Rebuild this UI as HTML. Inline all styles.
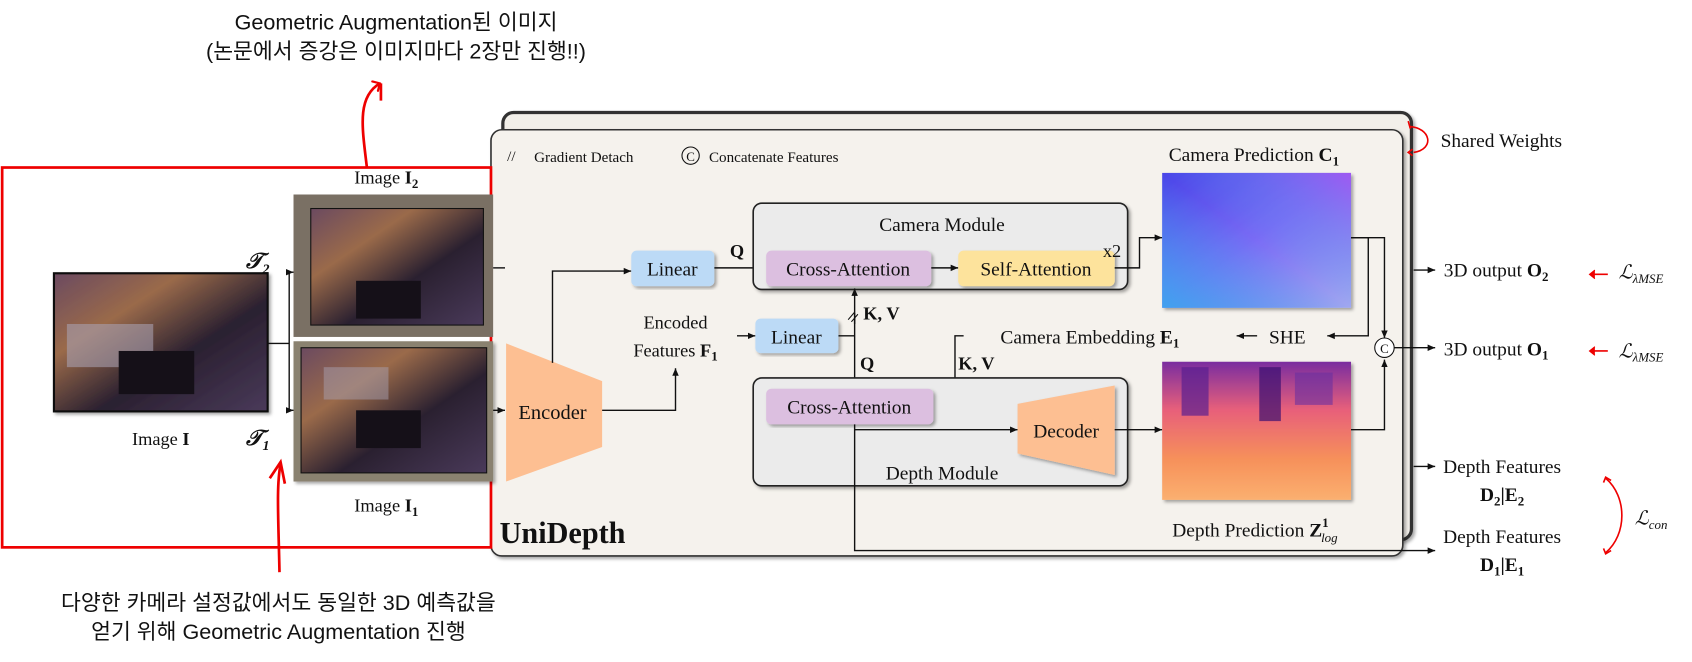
<!DOCTYPE html>
<html><head><meta charset="utf-8"><style>
html,body{margin:0;padding:0;background:#fff;width:1692px;height:662px;overflow:hidden}
svg{display:block}
.t{font-family:"Liberation Serif",serif;fill:#111}
.k{font-family:"Liberation Sans","Noto Sans CJK KR",sans-serif;fill:#111}
</style></head><body>
<svg width="1692" height="662" viewBox="0 0 1568 613" xmlns="http://www.w3.org/2000/svg">
<defs>
<marker id="a" markerWidth="8" markerHeight="8" refX="7" refY="4" orient="auto" markerUnits="userSpaceOnUse"><path d="M0,1 L7,4 L0,7 z" fill="#111"/></marker>
<marker id="r" markerWidth="12" markerHeight="12" refX="6" refY="6" orient="auto" markerUnits="userSpaceOnUse"><path d="M0,0 L6,6 L0,12" fill="none" stroke="#e00" stroke-width="2"/></marker>
<linearGradient id="cam" x1="0" y1="0" x2="1" y2="1"><stop offset="0" stop-color="#4a45e8"/><stop offset="0.5" stop-color="#7a6cf5"/><stop offset="1" stop-color="#a0a8f0"/></linearGradient>
<linearGradient id="cam2" x1="0" y1="1" x2="1" y2="0"><stop offset="0" stop-color="#3aa8ee" stop-opacity="0.9"/><stop offset="0.5" stop-color="#3aa8ee" stop-opacity="0"/><stop offset="1" stop-color="#b050f0" stop-opacity="0.7"/></linearGradient>
<linearGradient id="dep" x1="0" y1="0" x2="0" y2="1"><stop offset="0" stop-color="#7a2da0"/><stop offset="0.35" stop-color="#e8607a"/><stop offset="0.7" stop-color="#f6905a"/><stop offset="1" stop-color="#fbb070"/></linearGradient>
<linearGradient id="ph" x1="0" y1="0" x2="1" y2="1"><stop offset="0" stop-color="#6b4a60"/><stop offset="0.3" stop-color="#9a6a4a"/><stop offset="0.6" stop-color="#2a2030"/><stop offset="1" stop-color="#4a3a5a"/></linearGradient>
<filter id="sh"><feDropShadow dx="2" dy="2" stdDeviation="1.5" flood-opacity="0.35"/></filter>
</defs>

<text class="k" x="367" y="27" font-size="20" text-anchor="middle">Geometric Augmentation된 이미지</text>
<text class="k" x="367" y="54" font-size="20" text-anchor="middle">(논문에서 증강은 이미지마다 2장만 진행!!)</text>
<path d="M340,155 C336,120 330,90 352,77" fill="none" stroke="#e00" stroke-width="2.5" marker-end="url(#r)"/>
<path d="M353,77 L353,93" stroke="#e00" stroke-width="2.5"/>

<rect x="466" y="104" width="842" height="396" rx="10" fill="#f2efe9" stroke="#333" stroke-width="3" filter="url(#sh)"/>
<rect x="455" y="120" width="845" height="395" rx="10" fill="#f5f2ed" stroke="#333" stroke-width="1.5" filter="url(#sh)"/>

<text class="t" x="470" y="149" font-size="14" fill="#555">//</text>
<text class="t" x="495" y="150" font-size="14">Gradient Detach</text>
<circle cx="640" cy="144" r="8" fill="none" stroke="#111"/>
<text class="t" x="640" y="149" font-size="12" text-anchor="middle">C</text>
<text class="t" x="657" y="150" font-size="14">Concatenate Features</text>

<rect x="2" y="155" width="453" height="352" fill="none" stroke="#e00" stroke-width="2.5"/>

<rect x="50" y="253" width="198" height="128" fill="url(#ph)" stroke="#111" stroke-width="2" filter="url(#sh)"/>
<rect x="62" y="300" width="80" height="40" fill="#a8a0b0" opacity="0.6"/>
<rect x="110" y="325" width="70" height="40" fill="#151018"/>
<text class="t" x="149" y="412" font-size="17" text-anchor="middle">Image <tspan font-weight="bold">I</tspan></text>
<path d="M248,318 H268 M268,252 V380" stroke="#111" stroke-width="1.3" fill="none"/>
<path d="M268,252 H272" stroke="#111" stroke-width="1.3" marker-end="url(#a)"/>
<path d="M268,380 H272" stroke="#111" stroke-width="1.3" marker-end="url(#a)"/>
<text class="t" x="228" y="248" font-size="20" font-style="italic" font-weight="bold">𝒯<tspan font-size="13" dy="5">2</tspan></text>
<text class="t" x="228" y="412" font-size="20" font-style="italic" font-weight="bold">𝒯<tspan font-size="13" dy="5">1</tspan></text>

<text class="t" x="358" y="170" font-size="17" text-anchor="middle">Image <tspan font-weight="bold">I<tspan font-size="12" dy="4">2</tspan></tspan></text>
<rect x="272" y="180" width="185" height="132" fill="#7a7064"/>
<rect x="288" y="193" width="160" height="108" fill="url(#ph)" stroke="#111"/>
<rect x="330" y="260" width="60" height="35" fill="#151018"/>
<rect x="272" y="316" width="185" height="130" fill="#8a8270" filter="url(#sh)"/>
<rect x="279" y="322" width="172" height="116" fill="url(#ph)" stroke="#111"/>
<rect x="300" y="340" width="60" height="30" fill="#a8a0b0" opacity="0.5"/>
<rect x="330" y="380" width="60" height="35" fill="#151018"/>
<text class="t" x="358" y="474" font-size="17" text-anchor="middle">Image <tspan font-weight="bold">I<tspan font-size="12" dy="4">1</tspan></tspan></text>
<path d="M457,248 H468" stroke="#111" stroke-width="1.3"/>
<path d="M457,380 H468" stroke="#111" stroke-width="1.3" marker-end="url(#a)"/>

<polygon points="469,318 558,353 558,414 469,446" fill="#fdbf92"/>
<text class="t" x="512" y="388" font-size="19" text-anchor="middle">Encoder</text>
<path d="M512,336 V251 H585" fill="none" stroke="#111" stroke-width="1.3" marker-end="url(#a)"/>
<path d="M558,380 H626 V341" fill="none" stroke="#111" stroke-width="1.3" marker-end="url(#a)"/>
<text class="t" x="626" y="304" font-size="17" text-anchor="middle">Encoded</text>
<text class="t" x="626" y="330" font-size="17" text-anchor="middle">Features <tspan font-weight="bold">F<tspan font-size="12" dy="4">1</tspan></tspan></text>

<rect x="585" y="232" width="77" height="33" rx="5" fill="#bcdaf6" filter="url(#sh)"/>
<text class="t" x="623" y="255" font-size="18" text-anchor="middle">Linear</text>
<text class="t" x="683" y="238" font-size="17" font-weight="bold" text-anchor="middle">Q</text>
<path d="M662,248 H710" stroke="#111" stroke-width="1.3" marker-end="url(#a)"/>

<rect x="698" y="188" width="347" height="80" rx="8" fill="#ebebeb" stroke="#222" stroke-width="1.5" filter="url(#sh)"/>
<text class="t" x="873" y="214" font-size="18" text-anchor="middle">Camera Module</text>
<rect x="710" y="232" width="153" height="33" rx="5" fill="#dcbfe0" filter="url(#sh)"/>
<text class="t" x="786" y="255" font-size="18" text-anchor="middle">Cross-Attention</text>
<path d="M863,248 H888" stroke="#111" stroke-width="1.3" marker-end="url(#a)"/>
<rect x="888" y="232" width="145" height="33" rx="5" fill="#fde39c" filter="url(#sh)"/>
<text class="t" x="960" y="255" font-size="18" text-anchor="middle">Self-Attention</text>
<text class="t" x="1022" y="238" font-size="17">x2</text>
<path d="M1033,248 H1056 V220 H1077" fill="none" stroke="#111" stroke-width="1.3" marker-end="url(#a)"/>

<text class="t" x="1162" y="149" font-size="18" text-anchor="middle">Camera Prediction <tspan font-weight="bold">C<tspan font-size="12" dy="4">1</tspan></tspan></text>
<rect x="1077" y="160" width="175" height="125" fill="url(#cam)" filter="url(#sh)"/>
<rect x="1077" y="160" width="175" height="125" fill="url(#cam2)"/>

<path d="M683,311 H700" stroke="#111" stroke-width="1.3" marker-end="url(#a)"/>
<rect x="700" y="295" width="77" height="32" rx="5" fill="#bcdaf6" filter="url(#sh)"/>
<text class="t" x="738" y="318" font-size="18" text-anchor="middle">Linear</text>
<path d="M777,311 H792" stroke="#111" stroke-width="1.3"/>
<path d="M792,300 V267" stroke="#111" stroke-width="1.3" marker-end="url(#a)"/>
<path d="M792,290 V360" stroke="#111" stroke-width="1.3" marker-end="url(#a)"/>
<path d="M786,296 L792,289 M789,298 L795,291" stroke="#111" stroke-width="1"/>
<text class="t" x="800" y="296" font-size="17" font-weight="bold">K, V</text>
<text class="t" x="797" y="342" font-size="17" font-weight="bold">Q</text>

<text class="t" x="1010" y="318" font-size="18" text-anchor="middle">Camera Embedding <tspan font-weight="bold">E<tspan font-size="12" dy="4">1</tspan></tspan></text>
<text class="t" x="1193" y="318" font-size="18" text-anchor="middle">SHE</text>
<path d="M1165,311 H1146" stroke="#111" stroke-width="1.3" marker-end="url(#a)"/>
<path d="M1252,220 H1283 V313" fill="none" stroke="#111" stroke-width="1.3" marker-end="url(#a)"/>
<path d="M1252,220 H1268 V311 H1230" fill="none" stroke="#111" stroke-width="1.3" marker-end="url(#a)"/>
<path d="M893,311 H885 V377 H868" fill="none" stroke="#111" stroke-width="1.3" marker-end="url(#a)"/>
<text class="t" x="888" y="342" font-size="17" font-weight="bold">K, V</text>
<circle cx="1283" cy="322" r="9" fill="#fff" stroke="#111"/>
<text class="t" x="1283" y="327" font-size="12" text-anchor="middle">C</text>
<path d="M1292,322 H1330" stroke="#111" stroke-width="1.3" marker-end="url(#a)"/>

<rect x="698" y="350" width="347" height="100" rx="8" fill="#ebebeb" stroke="#222" stroke-width="1.5" filter="url(#sh)"/>
<rect x="710" y="360" width="155" height="33" rx="5" fill="#dcbfe0" filter="url(#sh)"/>
<text class="t" x="787" y="383" font-size="18" text-anchor="middle">Cross-Attention</text>
<path d="M792,393 V510 H1330" fill="none" stroke="#111" stroke-width="1.3" marker-end="url(#a)"/>
<path d="M792,398 H943" stroke="#111" stroke-width="1.3" marker-end="url(#a)"/>
<polygon points="943,374 1033,357 1033,440 943,420" fill="#fdbf92" filter="url(#sh)"/>
<text class="t" x="988" y="405" font-size="18" text-anchor="middle">Decoder</text>
<text class="t" x="873" y="444" font-size="18" text-anchor="middle">Depth Module</text>
<path d="M1033,398 H1077" stroke="#111" stroke-width="1.3" marker-end="url(#a)"/>

<rect x="1077" y="335" width="175" height="128" fill="url(#dep)" filter="url(#sh)"/>
<rect x="1095" y="340" width="25" height="45" fill="#5a2090" opacity="0.7"/>
<rect x="1167" y="340" width="20" height="50" fill="#3a1070" opacity="0.7"/>
<rect x="1200" y="345" width="35" height="30" fill="#6a30a0" opacity="0.6"/>
<path d="M1252,398 H1283 V333" fill="none" stroke="#111" stroke-width="1.3" marker-end="url(#a)"/>
<text class="t" x="1163" y="497" font-size="18" text-anchor="middle">Depth Prediction <tspan font-weight="bold">Z<tspan font-size="12" dy="-9">1</tspan></tspan><tspan font-size="12" font-style="italic" dx="-7" dy="14">log</tspan></text>

<text class="t" x="463" y="503" font-size="28" font-weight="bold">UniDepth</text>

<path d="M1306,117 C1326,118 1330,138 1310,141" fill="none" stroke="#e00" stroke-width="1.5"/>
<path d="M1305,112 L1307,119 M1309,138 L1305,141 L1309,144" stroke="#e00" stroke-width="1.5" fill="none"/>
<text class="t" x="1335" y="136" font-size="18">Shared Weights</text>
<path d="M1310,250 H1330" stroke="#111" stroke-width="1.3" marker-end="url(#a)"/>
<text class="t" x="1338" y="256" font-size="18">3D output <tspan font-weight="bold">O<tspan font-size="12" dy="4">2</tspan></tspan></text>
<path d="M1490,254 H1474" stroke="#e00" stroke-width="1.5"/><path d="M1478,250 L1473,254 L1478,258" fill="#e00" stroke="#e00"/>
<text class="t" x="1500" y="258" font-size="18" font-style="italic">ℒ<tspan font-size="12" dy="4">λMSE</tspan></text>
<text class="t" x="1338" y="329" font-size="18">3D output <tspan font-weight="bold">O<tspan font-size="12" dy="4">1</tspan></tspan></text>
<path d="M1490,325 H1474" stroke="#e00" stroke-width="1.5"/><path d="M1478,321 L1473,325 L1478,329" fill="#e00" stroke="#e00"/>
<text class="t" x="1500" y="331" font-size="18" font-style="italic">ℒ<tspan font-size="12" dy="4">λMSE</tspan></text>
<path d="M1310,432 H1330" stroke="#111" stroke-width="1.3" marker-end="url(#a)"/>
<text class="t" x="1392" y="438" font-size="18" text-anchor="middle">Depth Features</text>
<text class="t" x="1392" y="464" font-size="18" font-weight="bold" text-anchor="middle">D<tspan font-size="12" dy="4">2</tspan><tspan dy="-4">|E</tspan><tspan font-size="12" dy="4">2</tspan></text>
<text class="t" x="1392" y="503" font-size="18" text-anchor="middle">Depth Features</text>
<text class="t" x="1392" y="529" font-size="18" font-weight="bold" text-anchor="middle">D<tspan font-size="12" dy="4">1</tspan><tspan dy="-4">|E</tspan><tspan font-size="12" dy="4">1</tspan></text>
<path d="M1488,443 C1508,460 1508,495 1488,512" fill="none" stroke="#e00" stroke-width="1.5"/>
<path d="M1486,447 L1488,442 L1493,445 M1486,508 L1488,513 L1493,510" stroke="#e00" stroke-width="1.5" fill="none"/>
<text class="t" x="1515" y="486" font-size="18" font-style="italic">ℒ<tspan font-size="12" dy="4">con</tspan></text>

<path d="M259,530 C258,480 256,450 260,430" fill="none" stroke="#e00" stroke-width="2.5"/>
<path d="M250,443 L260,428 L264,448" fill="none" stroke="#e00" stroke-width="2.5"/>
<text class="k" x="258" y="565" font-size="20" text-anchor="middle">다양한 카메라 설정값에서도 동일한 3D 예측값을</text>
<text class="k" x="258" y="592" font-size="20" text-anchor="middle">얻기 위해 Geometric Augmentation 진행</text>
</svg>
</body></html>
